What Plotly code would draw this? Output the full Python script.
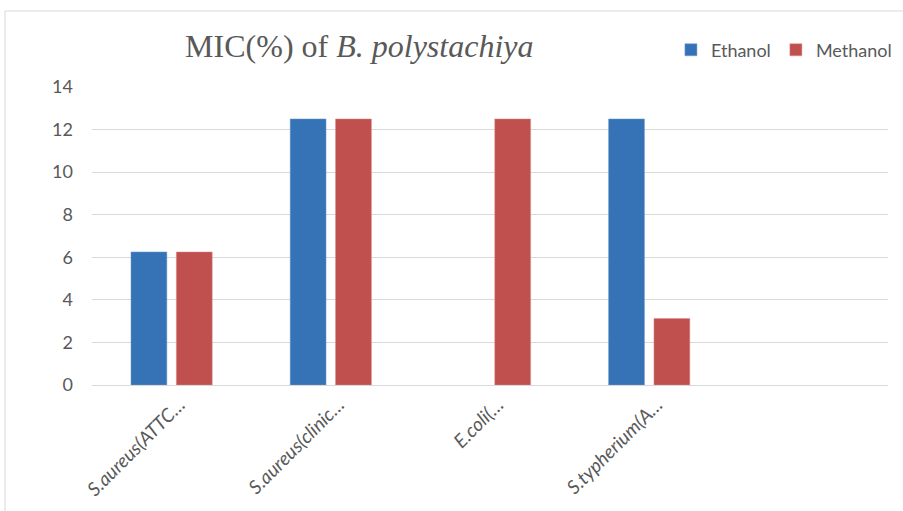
import plotly.graph_objects as go

# Chart data
categories = ["S.aureus(ATTC…", "S.aureus(clinic…", "E.coli(…", "S.typherium(A…", " "]
ethanol = [6.25, 12.5, None, 12.5, None]
methanol = [6.25, 12.5, 12.5, 3.125, None]
y_ticks = [0, 2, 4, 6, 8, 10, 12, 14]

GREY = "#595959"
SANS = "Lato, 'Open Sans', sans-serif"

fig = go.Figure()
fig.add_trace(go.Bar(
    x=categories, y=ethanol, name="Ethanol",
    marker=dict(color="#3673B6", line=dict(color="#6a9bd0", width=0.5)),
))
fig.add_trace(go.Bar(
    x=categories, y=methanol, name="Methanol",
    marker=dict(color="#C0504D", line=dict(color="#d88a88", width=0.5)),
))

fig.update_layout(
    width=903, height=511,
    margin=dict(l=92, r=15, t=87, b=126, autoexpand=False),
    paper_bgcolor="white", plot_bgcolor="white",
    barmode="group", bargap=0.43, bargroupgap=0.21,
    font=dict(family=SANS, color=GREY),
    title=dict(
        text="MIC(%) of <i>B. polystachiya</i>",
        font=dict(family="'Liberation Serif', 'Times New Roman', serif", size=32, color=GREY),
        xref="container", x=0.205, xanchor="left",
        yref="container", y=0.91, yanchor="middle",
    ),
    legend=dict(
        orientation="h",
        xref="container", x=0.743, xanchor="left",
        yref="container", y=0.902, yanchor="middle",
        font=dict(size=18, color=GREY),
        itemwidth=30,
        bgcolor="rgba(0,0,0,0)",
    ),
    xaxis=dict(
        tickangle=-45, showgrid=False, showline=False, ticks="",
        tickfont=dict(size=19, color=GREY, style="italic"),
        ticklabelshift=8, ticklabelstandoff=4, automargin=False,
    ),
    yaxis=dict(
        range=[0, 14], tickvals=y_ticks, showline=False,
        gridcolor="#D9D9D9", gridwidth=1,
        zeroline=True, zerolinecolor="#D9D9D9", zerolinewidth=1,
        tickfont=dict(size=18, color=GREY), ticks="",
        ticklabelstandoff=18, automargin=False,
    ),
    shapes=[
        dict(type="line", xref="paper", yref="paper",
             x0=-0.1093, x1=1.02, y0=1.255, y1=1.255,
             line=dict(color="#D9D9D9", width=1)),
        dict(type="line", xref="paper", yref="paper",
             x0=-0.1093, x1=-0.1093, y0=1.255, y1=-0.43,
             line=dict(color="#D9D9D9", width=1)),
    ],
)

# drop the browser's default page margin so the figure fills the window
fig.write_html(
    "out.html",
    config={"displayModeBar": False},
    post_script="document.body.style.margin='0';",
)
